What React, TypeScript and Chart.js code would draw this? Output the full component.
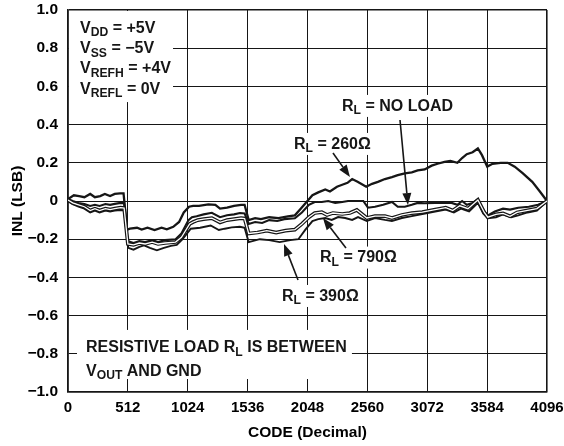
import React, { useEffect, useRef } from 'react';
import { Chart, registerables } from 'chart.js';

Chart.register(...registerables);

// ---- axis ticks ----
const codeTicks = [0, 512, 1024, 1536, 2048, 2560, 3072, 3584, 4096];
const inlTicks = [-1, -0.8, -0.6, -0.4, -0.2, 0, 0.2, 0.4, 0.6, 0.8, 1];

// ---- series: [code, INL (LSB)] ----
const rl260: [number, number][] = [
  [0, 0.01], [50, 0.03], [95, 0.025], [140, 0.02], [190, 0.037], [230, 0.02], [275, 0.026], [315, 0.037],
  [360, 0.026], [400, 0.037], [445, 0.04], [475, 0.04], [505, -0.15], [530, -0.145], [590, -0.14], [630, -0.15],
  [680, -0.14], [740, -0.152], [800, -0.14], [845, -0.148], [900, -0.135], [950, -0.11], [990, -0.06], [1035, -0.03],
  [1070, -0.026], [1120, -0.025], [1200, -0.018], [1260, -0.02], [1300, -0.04], [1360, -0.035], [1420, -0.025],
  [1480, -0.02], [1510, -0.02], [1545, -0.1], [1600, -0.09], [1650, -0.095], [1720, -0.085], [1800, -0.09],
  [1880, -0.08], [1940, -0.075], [1990, -0.04], [2040, -0.005], [2090, 0.03], [2140, 0.045], [2200, 0.06],
  [2240, 0.05], [2300, 0.075], [2345, 0.085], [2390, 0.095], [2430, 0.115], [2480, 0.1], [2550, 0.075],
  [2600, 0.09], [2650, 0.1], [2710, 0.115], [2770, 0.125], [2820, 0.135], [2880, 0.145], [2940, 0.15],
  [2990, 0.16], [3050, 0.165], [3110, 0.185], [3160, 0.195], [3220, 0.205], [3270, 0.21], [3330, 0.2],
  [3370, 0.225], [3410, 0.245], [3460, 0.255], [3505, 0.275], [3540, 0.24], [3585, 0.18], [3630, 0.195],
  [3700, 0.2], [3760, 0.2], [3820, 0.18], [3890, 0.145], [3970, 0.1], [4035, 0.05], [4096, 0],
];

const rlNoLoad: [number, number][] = [
  [0, 0.01], [40, 0.0], [90, -0.01], [140, -0.016], [190, -0.026], [230, -0.02], [270, -0.026], [320, -0.016],
  [360, -0.02], [400, -0.015], [450, -0.01], [480, -0.012], [510, -0.21], [560, -0.22], [610, -0.21], [660, -0.215],
  [720, -0.205], [770, -0.215], [830, -0.205], [920, -0.2], [970, -0.17], [1030, -0.1], [1060, -0.085],
  [1100, -0.08], [1160, -0.07], [1230, -0.062], [1300, -0.085], [1360, -0.075], [1420, -0.07], [1470, -0.063],
  [1510, -0.065], [1545, -0.12], [1600, -0.11], [1660, -0.115], [1720, -0.1], [1790, -0.105], [1850, -0.095],
  [1940, -0.09], [2000, -0.06], [2060, -0.02], [2110, -0.005], [2170, -0.005], [2225, 0.0], [2285, -0.01],
  [2345, -0.005], [2395, 0.0], [2470, 0.0], [2525, 0.0], [2565, -0.035], [2625, -0.03], [2695, -0.02],
  [2770, -0.005], [2820, -0.03], [2880, -0.03], [2940, -0.02], [2990, -0.01], [3050, -0.012], [3140, -0.01],
  [3220, -0.01], [3280, -0.01], [3330, -0.02], [3370, 0.0], [3410, -0.02], [3460, -0.01], [3505, 0.01],
  [3545, -0.045], [3590, -0.075], [3650, -0.055], [3720, -0.04], [3780, -0.045], [3850, -0.035], [3940, -0.03],
  [4020, -0.02], [4096, 0],
];

const rl790: [number, number][] = [
  [0, 0.005], [40, -0.01], [90, -0.02], [140, -0.03], [190, -0.05], [230, -0.04], [270, -0.05], [320, -0.04],
  [360, -0.045], [400, -0.04], [450, -0.035], [480, -0.037], [512, -0.225], [560, -0.23], [610, -0.22],
  [660, -0.225], [720, -0.215], [770, -0.225], [830, -0.22], [920, -0.215], [970, -0.19], [1040, -0.12],
  [1070, -0.11], [1110, -0.1], [1160, -0.095], [1230, -0.09], [1300, -0.112], [1360, -0.1], [1420, -0.095],
  [1480, -0.09], [1510, -0.092], [1545, -0.17], [1620, -0.165], [1700, -0.155], [1780, -0.165], [1860, -0.155],
  [1940, -0.15], [2000, -0.12], [2060, -0.085], [2110, -0.063], [2170, -0.058], [2215, -0.073], [2265, -0.063],
  [2345, -0.068], [2410, -0.063], [2470, -0.047], [2555, -0.089], [2625, -0.079], [2710, -0.079], [2770, -0.089],
  [2855, -0.073], [2940, -0.063], [3030, -0.058], [3140, -0.045], [3230, -0.035], [3290, -0.05], [3350, -0.025],
  [3420, -0.04], [3505, 0.005], [3560, -0.06], [3590, -0.085], [3660, -0.07], [3720, -0.065], [3780, -0.08],
  [3840, -0.06], [3920, -0.05], [4010, -0.04], [4096, 0],
];

const rl390: [number, number][] = [
  [0, 0.0], [40, -0.016], [90, -0.03], [140, -0.04], [190, -0.06], [230, -0.05], [270, -0.06], [320, -0.05],
  [360, -0.055], [400, -0.05], [450, -0.047], [480, -0.05], [515, -0.245], [560, -0.255], [610, -0.24],
  [650, -0.232], [700, -0.245], [760, -0.258], [820, -0.245], [880, -0.235], [930, -0.23], [980, -0.2],
  [1050, -0.145], [1130, -0.14], [1220, -0.128], [1290, -0.152], [1340, -0.145], [1400, -0.138], [1470, -0.135],
  [1510, -0.14], [1545, -0.215], [1640, -0.2], [1720, -0.205], [1810, -0.215], [1900, -0.205], [1970, -0.2],
  [2030, -0.15], [2090, -0.105], [2140, -0.095], [2200, -0.089], [2255, -0.099], [2310, -0.084], [2370, -0.089],
  [2430, -0.099], [2480, -0.084], [2555, -0.105], [2625, -0.089], [2710, -0.099], [2770, -0.105], [2855, -0.089],
  [2940, -0.079], [3030, -0.068], [3140, -0.055], [3230, -0.045], [3300, -0.06], [3360, -0.04], [3430, -0.055],
  [3505, -0.01], [3550, -0.065], [3590, -0.09], [3660, -0.085], [3720, -0.07], [3790, -0.085], [3850, -0.075],
  [3930, -0.06], [4010, -0.05], [4096, 0],
];

// ---- annotation text ----
type Run = { t: string; sub?: boolean };
type Label = { runs: Run[]; code: number; inl: number; box: boolean };

const labels: Label[] = [
  { runs: [{ t: 'V' }, { t: 'DD', sub: true }, { t: ' = +5V' }], code: 103, inl: 0.911, box: false },
  { runs: [{ t: 'V' }, { t: 'SS', sub: true }, { t: ' = \u22125V' }], code: 103, inl: 0.804, box: false },
  { runs: [{ t: 'V' }, { t: 'REFH', sub: true }, { t: ' = +4V' }], code: 103, inl: 0.699, box: false },
  { runs: [{ t: 'V' }, { t: 'REFL', sub: true }, { t: ' = 0V' }], code: 103, inl: 0.591, box: false },
  { runs: [{ t: 'R' }, { t: 'L', sub: true }, { t: ' = NO LOAD' }], code: 2343, inl: 0.503, box: true },
  { runs: [{ t: 'R' }, { t: 'L', sub: true }, { t: ' = 260\u03A9' }], code: 1933, inl: 0.304, box: true },
  { runs: [{ t: 'R' }, { t: 'L', sub: true }, { t: ' = 790\u03A9' }], code: 2155, inl: -0.291, box: true },
  { runs: [{ t: 'R' }, { t: 'L', sub: true }, { t: ' = 390\u03A9' }], code: 1830, inl: -0.492, box: true },
  { runs: [{ t: 'RESISTIVE LOAD R' }, { t: 'L', sub: true }, { t: ' IS BETWEEN' }], code: 154, inl: -0.762, box: false },
  { runs: [{ t: 'V' }, { t: 'OUT', sub: true }, { t: ' AND GND' }], code: 154, inl: -0.885, box: false },
];

// white panels behind the two text blocks: [code0, inl0, code1, inl1]
const panels: [number, number, number, number][] = [
  [0, 1, 898, 0.518],
  [77, -0.675, 2428, -0.932],
];

// arrows: [fromCode, fromInl, toCode, toInl]
const arrows: [number, number, number, number][] = [
  [2839, 0.424, 2907, -0.021],
  [2266, 0.251, 2411, 0.126],
  [2377, -0.246, 2180, -0.089],
  [1967, -0.414, 1847, -0.225],
];

const FONT = '"Liberation Sans", Arial, Helvetica, sans-serif';
const TEXT_SIZE = 16;
const INK = '#161616';

function runs(ctx: CanvasRenderingContext2D, rs: Run[], x: number, yMid: number, draw: boolean): number {
  const size = TEXT_SIZE;
  const subSize = size * 0.76;
  const base = yMid + size * 0.358;
  let cx = x;
  for (const r of rs) {
    ctx.font = `bold ${r.sub ? subSize : size}px ${FONT}`;
    if (draw) ctx.fillText(r.t, cx, r.sub ? base + size * 0.22 : base);
    cx += ctx.measureText(r.t).width;
  }
  return cx - x;
}

const annotationPlugin = {
  id: 'inlAnnotations',
  beforeDatasetsDraw(chart: any) {
    const { ctx, chartArea } = chart;
    const xs = chart.scales.x;
    const ys = chart.scales.y;
    ctx.save();
    ctx.fillStyle = '#ffffff';
    for (const [c0, v0, c1, v1] of panels) {
      let x0 = xs.getPixelForValue(c0);
      let y0 = ys.getPixelForValue(v0);
      const x1 = xs.getPixelForValue(c1);
      const y1 = ys.getPixelForValue(v1);
      x0 = Math.max(x0, chartArea.left + 1);
      y0 = Math.max(y0, chartArea.top + 1);
      ctx.fillRect(x0, Math.min(y0, y1), x1 - x0, Math.abs(y1 - y0));
    }
    ctx.textBaseline = 'alphabetic';
    ctx.textAlign = 'left';
    for (const l of labels) {
      if (!l.box) continue;
      const x = xs.getPixelForValue(l.code);
      const y = ys.getPixelForValue(l.inl);
      const w = runs(ctx, l.runs, x, y, false);
      ctx.fillRect(x - 4, y - 10, w + 8, 22);
    }
    ctx.fillStyle = INK;
    for (const l of labels) {
      const x = xs.getPixelForValue(l.code);
      const y = ys.getPixelForValue(l.inl);
      runs(ctx, l.runs, x, y, true);
    }
    ctx.restore();
  },
  afterDatasetsDraw(chart: any) {
    const { ctx } = chart;
    const xs = chart.scales.x;
    const ys = chart.scales.y;
    ctx.save();
    ctx.strokeStyle = INK;
    ctx.fillStyle = INK;
    ctx.lineWidth = 1.6;
    for (const [c0, v0, c1, v1] of arrows) {
      const x0 = xs.getPixelForValue(c0);
      const y0 = ys.getPixelForValue(v0);
      const x1 = xs.getPixelForValue(c1);
      const y1 = ys.getPixelForValue(v1);
      const ang = Math.atan2(y1 - y0, x1 - x0);
      const hl = 12;
      const hw = 4.5;
      const bx = x1 - hl * Math.cos(ang);
      const by = y1 - hl * Math.sin(ang);
      ctx.beginPath();
      ctx.moveTo(x0, y0);
      ctx.lineTo(bx, by);
      ctx.stroke();
      ctx.beginPath();
      ctx.moveTo(x1, y1);
      ctx.lineTo(bx + hw * Math.sin(ang), by - hw * Math.cos(ang));
      ctx.lineTo(bx - hw * Math.sin(ang), by + hw * Math.cos(ang));
      ctx.closePath();
      ctx.fill();
    }
    ctx.restore();
  },
};

const toPts = (arr: [number, number][]) => arr.map(([x, y]) => ({ x, y }));

function fmtInl(v: number): string {
  const n = Math.round(v * 10) / 10;
  if (n === 0) return '0';
  const s = Math.abs(n).toFixed(1);
  return n < 0 ? '\u2212' + s : s;
}

export default function App() {
  const ref = useRef<HTMLCanvasElement | null>(null);

  useEffect(() => {
    if (!ref.current) return;
    const line = (data: [number, number][], width: number, color: string, order: number) => ({
      data: toPts(data),
      borderColor: color,
      borderWidth: width,
      pointRadius: 0,
      tension: 0,
      fill: false,
      order,
    });
    const edgeWidth = (ctx: any) => {
      const n = ctx.chart?.scales?.[ctx.scale?.id]?.ticks?.length ?? 0;
      return ctx.index === 0 || ctx.index === n - 1 ? 1.6 : 1;
    };
    const chart = new Chart(ref.current, {
      type: 'line',
      data: {
        datasets: [
          line(rl260, 2.3, INK, 2),
          line(rlNoLoad, 2.1, INK, 2),
          line(rl790, 1.3, '#ffffff', 0),
          line(rl790, 3.7, INK, 1),
          line(rl390, 1.9, INK, 2),
        ] as any,
      },
      options: {
        animation: false,
        responsive: false,
        maintainAspectRatio: false,
        events: [],
        layout: { padding: { left: 0, right: 17, top: 10, bottom: 0 } },
        plugins: { legend: { display: false }, tooltip: { enabled: false } },
        scales: {
          x: {
            type: 'linear',
            min: 0,
            max: 4096,
            afterBuildTicks: (s: any) => {
              s.ticks = codeTicks.map((v) => ({ value: v }));
            },
            afterFit: (s: any) => {
              s.height = 54;
              s.paddingLeft = 0;
              s.paddingRight = 0;
            },
            ticks: {
              autoSkip: false,
              maxRotation: 0,
              padding: 7,
              color: '#000',
              font: { family: FONT, size: 15, weight: 'bold' },
              callback: (v: any) => String(v),
            },
            grid: { color: INK, lineWidth: edgeWidth, drawTicks: false },
            border: { display: true, color: INK, width: 1.6 },
            title: {
              display: true,
              text: 'CODE (Decimal)',
              color: '#000',
              font: { family: FONT, size: 15.5, weight: 'bold' },
              padding: { top: 0, bottom: 3.7 },
            },
          },
          y: {
            type: 'linear',
            min: -1,
            max: 1,
            afterBuildTicks: (s: any) => {
              s.ticks = inlTicks.map((v) => ({ value: v }));
            },
            afterFit: (s: any) => {
              s.width = 68;
              s.paddingTop = 0;
              s.paddingBottom = 0;
            },
            ticks: {
              padding: 10,
              color: '#000',
              font: { family: FONT, size: 15.5, weight: 'bold' },
              callback: (v: any) => fmtInl(Number(v)),
            },
            grid: { color: INK, lineWidth: edgeWidth, drawTicks: false },
            border: { display: true, color: INK, width: 1.6 },
            title: {
              display: true,
              text: 'INL (LSB)',
              color: '#000',
              font: { family: FONT, size: 15.5, weight: 'bold' },
              padding: { top: 8.7, bottom: 0 },
            },
          },
        },
      } as any,
      plugins: [annotationPlugin],
    });
    return () => chart.destroy();
  }, []);

  return (
    <div style={{ position: 'absolute', left: 0, top: 0, width: 564, height: 446, background: '#fff' }}>
      <canvas ref={ref} width={564} height={446} style={{ display: 'block', width: 564, height: 446 }} />
    </div>
  );
}
